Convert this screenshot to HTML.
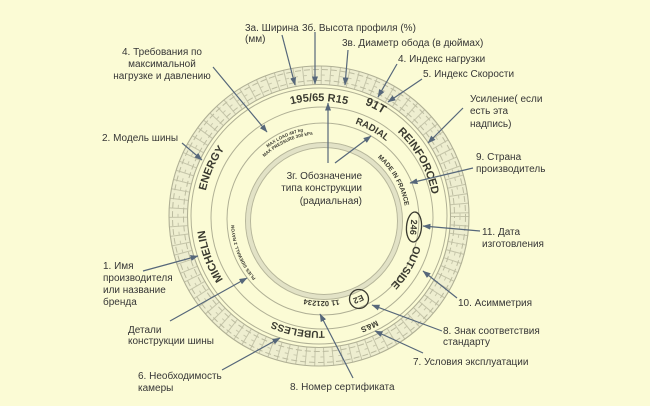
<!DOCTYPE html>
<html><head><meta charset="utf-8">
<style>
html,body{margin:0;padding:0;background:#fbfbd5;}
svg{display:block}
.l{font-family:"Liberation Sans",Arial,sans-serif;font-size:10px;fill:#363636}
.t{font-family:"Liberation Sans",Arial,sans-serif;font-weight:bold;fill:#3a3a30}
.ar{stroke:#56677a;stroke-width:1.2;fill:none;marker-end:url(#a)}
</style></head>
<body>
<svg width="650" height="406" viewBox="0 0 650 406" xmlns="http://www.w3.org/2000/svg">
<defs>
<marker id="a" markerWidth="8" markerHeight="6" refX="7.5" refY="3" orient="auto" markerUnits="userSpaceOnUse"><path d="M0,0 L8,3 L0,6 z" fill="#56677a"/></marker>
<path id="o115" d="M204,216 A115,115 0 1 1 434,216 A115,115 0 1 1 204,216"/>
<path id="o116" d="M203,216 A116,116 0 1 1 435,216 A116,116 0 1 1 203,216"/>
<path id="o120" d="M198.5,216 A120.5,120.5 0 1 1 439.5,216 A120.5,120.5 0 1 1 198.5,216"/>
<path id="o119" d="M200,216 A119,119 0 1 1 438,216 A119,119 0 1 1 200,216"/>
<path id="m100" d="M222,218 A100,100 0 1 1 422,218 A100,100 0 1 1 222,218"/>
<path id="m96" d="M226,218 A96,96 0 1 1 418,218 A96,96 0 1 1 226,218"/>
<path id="i91" d="M232,220 A91,91 0 1 1 414,220 A91,91 0 1 1 232,220"/>
<path id="i86" d="M237,220 A86,86 0 1 1 409,220 A86,86 0 1 1 237,220"/>
<path id="i83" d="M240,220 A83,83 0 1 1 406,220 A83,83 0 1 1 240,220"/>
<path id="i88" d="M235,220 A88,88 0 1 1 411,220 A88,88 0 1 1 235,220"/>
<path id="i84" d="M239,220 A84,84 0 1 1 407,220 A84,84 0 1 1 239,220"/>
<path id="i81" d="M242,220 A81,81 0 1 1 404,220 A81,81 0 1 1 242,220"/>
<path id="i89" d="M234,220 A89,89 0 1 1 412,220 A89,89 0 1 1 234,220"/>
</defs>
<rect width="650" height="406" fill="#fbfbd5"/>

<!-- tread -->
<g fill="none">
<circle cx="319" cy="216" r="141" stroke="#eeeed0" stroke-width="19"/>
<circle cx="319" cy="216" r="141" stroke="#c4c4a8" stroke-width="18" stroke-dasharray="1 8"/>
<circle cx="319" cy="216" r="146.5" stroke="#bcbca0" stroke-width="1" stroke-dasharray="6 3"/>
<circle cx="319" cy="216" r="135.5" stroke="#bcbca0" stroke-width="1" stroke-dasharray="6 3" stroke-dashoffset="4"/>
<circle cx="319" cy="216" r="141" stroke="#c8c8ac" stroke-width="1" stroke-dasharray="4 5"/>
<circle cx="319" cy="216" r="150" stroke="#b0b095" stroke-width="1.1"/>
<circle cx="319" cy="216" r="131.5" stroke="#b0b095" stroke-width="1.1"/>
<!-- rings -->
<circle cx="319" cy="216" r="128" stroke="#b0b095" stroke-width="1"/>
<circle cx="322" cy="218" r="111" stroke="#b0b095" stroke-width="1"/>
<circle cx="323" cy="219" r="96" stroke="#b0b095" stroke-width="1"/>
<circle cx="324" cy="221" r="76" stroke="#e2e2c6" stroke-width="4"/>
<circle cx="324" cy="221" r="78.5" stroke="#b6b69b" stroke-width="1"/>
<circle cx="324" cy="221" r="73.5" stroke="#b6b69b" stroke-width="1"/>
</g>

<!-- tire texts -->
<text class="t" font-size="11" text-anchor="middle"><textPath href="#o115" startOffset="180.6">195/65 R15</textPath></text>
<text class="t" font-size="12" text-anchor="middle"><textPath href="#o120" startOffset="246.5">91T</textPath></text>
<text class="t" font-size="11" text-anchor="middle"><textPath href="#o115" startOffset="302.9">REINFORCED</textPath></text>
<text class="t" font-size="11" text-anchor="middle"><textPath href="#o115" startOffset="681">MICHELIN</textPath></text>
<text class="t" font-size="10" text-anchor="middle"><textPath href="#o115" startOffset="562.4">TUBELESS</textPath></text>
<text class="t" font-size="11" text-anchor="middle"><textPath href="#o116" startOffset="48.6">ENERGY</textPath></text>
<text class="t" font-size="8" text-anchor="middle"><textPath href="#o119" startOffset="509.5">M&amp;S</textPath></text>
<text class="t" font-size="9.5" text-anchor="middle"><textPath href="#m100" startOffset="208.6">RADIAL</textPath></text>
<text class="t" font-size="10.5" text-anchor="middle"><textPath href="#m96" startOffset="352.2">OUTSIDE</textPath></text>
<text class="t" font-size="4.5" text-anchor="middle"><textPath href="#i91" startOffset="103.1">MAX LOAD 487 kg</textPath></text>
<text class="t" font-size="4.5" text-anchor="middle"><textPath href="#i86" startOffset="97.4">MAX PRESSURE 300 kPa</textPath></text>
<text class="t" font-size="6.5" text-anchor="middle"><textPath href="#i83" startOffset="217.9">MADE IN FRANCE</textPath></text>
<text class="t" font-size="9" text-anchor="middle"><textPath href="#i88" startOffset="283.2">246</textPath></text>
<text class="t" font-size="8.5" text-anchor="middle"><textPath href="#i84" startOffset="359.9">E2</textPath></text>
<text class="t" font-size="7.5" text-anchor="middle"><textPath href="#i81" startOffset="382.7">11 021234</textPath></text>
<text class="t" font-size="4.5" text-anchor="middle"><textPath href="#i89" startOffset="524.1">PLIES SIDEWALL 2 RAYON</textPath></text>
<ellipse cx="414" cy="227" rx="15" ry="7.5" transform="rotate(94.4 414 227)" fill="none" stroke="#3a3a30" stroke-width="1.3"/>
<circle cx="359" cy="299" r="9.5" fill="none" stroke="#3a3a30" stroke-width="1.3"/>

<!-- arrows -->
<line class="ar" x1="282" y1="35" x2="295" y2="85"/>
<line class="ar" x1="315" y1="32" x2="315" y2="84"/>
<line class="ar" x1="348" y1="50" x2="345" y2="85"/>
<line class="ar" x1="213" y1="67" x2="267" y2="132"/>
<line class="ar" x1="182" y1="143" x2="202" y2="160"/>
<line class="ar" x1="397" y1="64" x2="378" y2="97"/>
<line class="ar" x1="422" y1="79" x2="388" y2="102"/>
<line class="ar" x1="463" y1="108" x2="428" y2="143"/>
<line class="ar" x1="473" y1="168" x2="410" y2="183"/>
<line class="ar" x1="328" y1="163" x2="328" y2="103"/>
<line class="ar" x1="335" y1="163" x2="371" y2="136"/>
<line class="ar" x1="143" y1="271" x2="198" y2="256"/>
<line class="ar" x1="170" y1="321" x2="247" y2="278"/>
<line class="ar" x1="222" y1="370" x2="280" y2="338"/>
<line class="ar" x1="353" y1="378" x2="320" y2="314"/>
<line class="ar" x1="480" y1="231" x2="423" y2="226"/>
<line class="ar" x1="457" y1="298" x2="423" y2="271"/>
<line class="ar" x1="442" y1="331" x2="372" y2="305"/>
<line class="ar" x1="423" y1="353" x2="375" y2="331"/>

<!-- labels -->
<text class="l" x="245" y="31">3а. Ширина</text>
<text class="l" x="245" y="42">(мм)</text>
<text class="l" x="302" y="31">3б. Высота профиля (%)</text>
<text class="l" x="162" y="55" text-anchor="middle">4. Требования по</text>
<text class="l" x="162" y="67" text-anchor="middle">максимальной</text>
<text class="l" x="162" y="79" text-anchor="middle">нагрузке и давлению</text>
<text class="l" x="342" y="46">3в. Диаметр обода (в дюймах)</text>
<text class="l" x="398" y="62">4. Индекс нагрузки</text>
<text class="l" x="423" y="77">5. Индекс Скорости</text>
<text class="l" x="470" y="102">Усиление( если</text>
<text class="l" x="470" y="114">есть эта</text>
<text class="l" x="470" y="127">надпись)</text>
<text class="l" x="102" y="141">2. Модель шины</text>
<text class="l" x="476" y="160">9. Страна</text>
<text class="l" x="476" y="172">производитель</text>
<text class="l" x="362" y="179" text-anchor="end">3г. Обозначение</text>
<text class="l" x="362" y="191" text-anchor="end">типа конструкции</text>
<text class="l" x="362" y="204" text-anchor="end">(радиальная)</text>
<text class="l" x="482" y="235">11. Дата</text>
<text class="l" x="482" y="247">изготовления</text>
<text class="l" x="103" y="269">1. Имя</text>
<text class="l" x="103" y="281">производителя</text>
<text class="l" x="103" y="293">или название</text>
<text class="l" x="103" y="305">бренда</text>
<text class="l" x="458" y="306">10. Асимметрия</text>
<text class="l" x="128" y="333">Детали</text>
<text class="l" x="128" y="344">конструкции шины</text>
<text class="l" x="443" y="334">8. Знак соответствия</text>
<text class="l" x="443" y="345">стандарту</text>
<text class="l" x="413" y="365">7. Условия эксплуатации</text>
<text class="l" x="138" y="379">6. Необходимость</text>
<text class="l" x="138" y="391">камеры</text>
<text class="l" x="290" y="390">8. Номер сертификата</text>
</svg>
</body></html>
